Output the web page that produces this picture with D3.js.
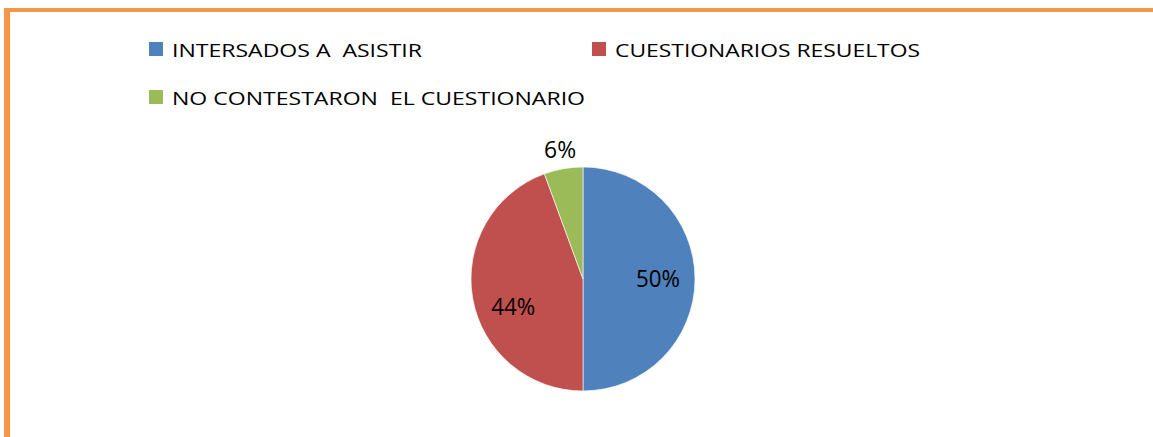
<!DOCTYPE html>
<html><head><meta charset="utf-8">
<script src="https://cdn.jsdelivr.net/npm/d3@7"></script>
<style>html,body{margin:0;padding:0;background:#fff;overflow:hidden}text{white-space:pre}</style>
</head><body>
<svg id="chart" width="1153" height="437"></svg>
<script>
const categories = ["INTERSADOS A  ASISTIR", "CUESTIONARIOS RESUELTOS", "NO CONTESTARON  EL CUESTIONARIO"];
const values = [50, 44.4, 5.6];
const colors = ["#4F81BD", "#C0504D", "#9BBB59"];

const svg = d3.select("#chart");
const font = "'Open Sans', 'Noto Sans', sans-serif";

// frame (orange border)
svg.append("rect").attr("x", 4).attr("y", 8).attr("width", 1149).attr("height", 4).attr("fill", "#F79646");
svg.append("rect").attr("x", 4).attr("y", 8).attr("width", 6).attr("height", 429).attr("fill", "#F79646");

// legend
const legendPos = [{x:149, y:42, w:250}, {x:592, y:42, w:305}, {x:149, y:90, w:413}];
const lg = svg.append("g");
categories.forEach((c, i) => {
  const p = legendPos[i];
  lg.append("rect").attr("x", p.x).attr("y", p.y).attr("width", 14).attr("height", 14).attr("fill", colors[i]);
  lg.append("text").attr("x", p.x + 23).attr("y", p.y + 14.5)
    .attr("font-family", font).attr("font-size", 18.5).attr("fill", "#000")
    .attr("textLength", p.w).attr("lengthAdjust", "spacingAndGlyphs")
    .text(c);
});

// pie
const cx = 583, cy = 279, r = 112;
const pie = d3.pie().sort(null).value(d => d)(values);
const arc = d3.arc().innerRadius(0).outerRadius(r);
const g = svg.append("g").attr("transform", `translate(${cx},${cy})`);
g.selectAll("path").data(pie).join("path")
  .attr("d", arc).attr("fill", (d, i) => colors[i])
  .attr("stroke", "#fff").attr("stroke-width", 0.6);

const total = d3.sum(values);
const fmt = v => Math.round(v / total * 100) + "%";
g.selectAll("text.lbl").data(pie).join("text").attr("class", "lbl")
  .attr("transform", d => {
    const frac = (d.endAngle - d.startAngle) / (2 * Math.PI);
    const rr = frac < 0.1 ? r * 1.17 : r * 0.67;
    let a = (d.startAngle + d.endAngle) / 2;
    if (d.index === 1) a -= 0.2;
    return `translate(${Math.sin(a) * rr},${-Math.cos(a) * rr})`;
  })
  .attr("dy", "0.36em")
  .attr("text-anchor", "middle")
  .attr("font-family", font).attr("font-size", 23.5).attr("fill", "#000")
  .attr("textLength", d => fmt(d.value).length === 2 ? 32 : 44).attr("lengthAdjust", "spacingAndGlyphs")
  .text(d => fmt(d.value));
</script>
</body></html>
